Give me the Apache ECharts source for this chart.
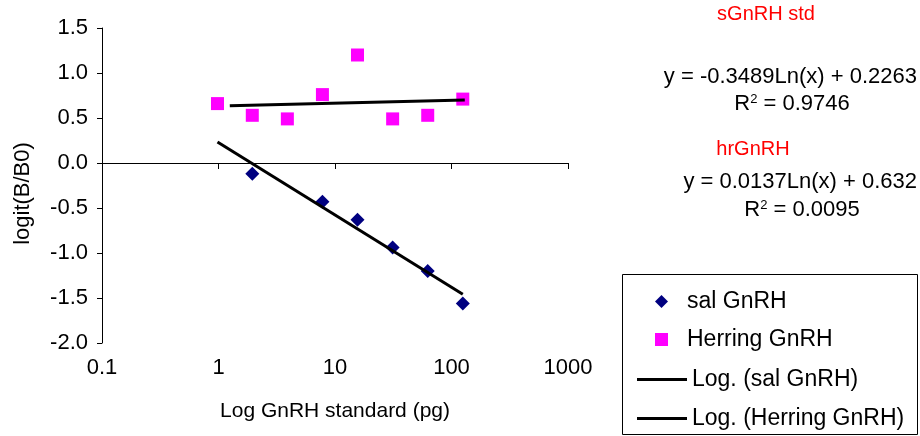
<!DOCTYPE html>
<html>
<head>
<meta charset="utf-8">
<style>
  html, body { margin: 0; padding: 0; background: #fff; }
  #chart { width: 920px; height: 436px; }
</style>
<script src="https://cdn.jsdelivr.net/npm/echarts@6/dist/echarts.min.js"></script>
</head>
<body>
<div id="chart"></div>
<script>
// GnRH standard amounts (pg), two-fold dilution series
const doses = [0.98, 1.95, 3.9, 7.8, 15.6, 31.25, 62.5, 125];
// logit(B/B0) for each standard (null = no reading)
const salGnRH = [null, -0.12, null, -0.43, -0.63, -0.94, -1.20, -1.56];
const herringGnRH = [0.66, 0.53, 0.49, 0.76, 1.20, 0.49, 0.53, 0.71];

// Logarithmic fits y = a*Ln(x) + b, and the dose span each one covers
const salFit = [-0.3489, 0.2263];
const salFitSpan = [0.98, 125];
const herringFit = [0.0137, 0.632];
const herringFitSpan = [1.25, 130];

const yTicks = [-2.0, -1.5, -1.0, -0.5, 0.0, 0.5, 1.0, 1.5];
const xTicks = [0.1, 1, 10, 100, 1000];

const seriesNames = ['sal GnRH', 'Herring GnRH', 'Log. (sal GnRH)', 'Log. (Herring GnRH)'];
const seriesColors = ['#000080', '#FF00FF', '#000000', '#000000'];
const fitNotes = [
  { title: 'sGnRH std', eq: 'y = -0.3489Ln(x) + 0.2263', r2: '0.9746' },
  { title: 'hrGnRH', eq: 'y = 0.0137Ln(x) + 0.632', r2: '0.0095' }
];

const FONT = 'Liberation Sans, Arial, sans-serif';

function pairs(xs, ys) {
  const out = [];
  xs.forEach((x, i) => { if (ys[i] !== null) out.push([x, ys[i]]); });
  return out;
}
function fitLine(coef, span) {
  return span.map(x => [x, coef[0] * Math.log(x) + coef[1]]);
}

const chart = echarts.init(document.getElementById('chart'), null, { renderer: 'canvas' });

// one legend block per entry so each row sits where it should
const legendTops = [285, 323, 363, 402];
const legendIcons = ['diamond', 'rect', 'rect', 'rect'];
const legends = seriesNames.map((name, i) => {
  const isLine = i >= 2;
  return {
    data: [{ name: name, icon: legendIcons[i], itemStyle: { color: seriesColors[i], borderWidth: 0, opacity: 1 } }],
    left: isLine ? 632 : 650,
    top: legendTops[i],
    itemWidth: isLine ? 50 : 13,
    itemHeight: isLine ? 3 : 13,
    itemGap: 5,
    selectedMode: false,
    itemStyle: { color: seriesColors[i], borderWidth: 0, opacity: 1 },
    textStyle: {
      fontFamily: FONT, fontSize: 23, color: '#000', lineHeight: 22,
      padding: isLine ? [0, 0, 0, 0] : [0, 0, 0, 14]
    }
  };
});

const option = {
  animation: false,
  backgroundColor: '#fff',
  grid: { left: 102, top: 28, width: 466, height: 315, containLabel: false },
  legend: legends,
  xAxis: {
    type: 'log',
    logBase: 10,
    min: xTicks[0],
    max: xTicks[xTicks.length - 1],
    name: 'Log GnRH standard (pg)',
    nameLocation: 'middle',
    nameGap: 58,
    nameTextStyle: { fontFamily: FONT, fontSize: 21, color: '#000' },
    axisLine: { lineStyle: { color: '#000', width: 1 } },
    axisTick: { show: true, inside: false, length: 6, lineStyle: { color: '#000' } },
    axisLabel: {
      fontFamily: FONT, fontSize: 22, color: '#000', margin: 14,
      formatter: v => String(+v.toPrecision(6))
    },
    splitLine: { show: false },
    minorTick: { show: false }
  },
  yAxis: {
    type: 'value',
    min: yTicks[0],
    max: yTicks[yTicks.length - 1],
    interval: 0.5,
    name: 'logit(B/B0)',
    nameLocation: 'middle',
    nameGap: 68,
    nameTextStyle: { fontFamily: FONT, fontSize: 22, color: '#000', padding: [0, 0, 0, -16] },
    axisLine: { show: true, lineStyle: { color: '#000', width: 1 } },
    axisTick: { show: true, inside: false, length: 5, lineStyle: { color: '#000' } },
    axisLabel: {
      fontFamily: FONT, fontSize: 22, color: '#000', margin: 14,
      formatter: v => v.toFixed(1)
    },
    splitLine: { show: false }
  },
  series: [
    {
      name: seriesNames[0],
      type: 'scatter',
      symbol: 'diamond',
      symbolSize: 14,
      itemStyle: { color: seriesColors[0], opacity: 1 },
      data: pairs(doses, salGnRH),
      z: 2
    },
    {
      name: seriesNames[1],
      type: 'scatter',
      symbol: 'rect',
      symbolSize: 13,
      itemStyle: { color: seriesColors[1], opacity: 1 },
      data: pairs(doses, herringGnRH),
      z: 2
    },
    {
      name: seriesNames[2],
      type: 'line',
      symbol: 'none',
      lineStyle: { color: seriesColors[2], width: 3 },
      itemStyle: { color: seriesColors[2] },
      data: fitLine(salFit, salFitSpan),
      z: 3
    },
    {
      name: seriesNames[3],
      type: 'line',
      symbol: 'none',
      lineStyle: { color: seriesColors[3], width: 3 },
      itemStyle: { color: seriesColors[3] },
      data: fitLine(herringFit, herringFitSpan),
      z: 3
    }
  ],
  graphic: [
    // legend frame
    {
      type: 'rect',
      shape: { x: 622.5, y: 274.5, width: 295, height: 160 },
      style: { fill: 'none', stroke: '#000', lineWidth: 1 },
      z: 0, silent: true
    },
    // fit notes
    {
      type: 'text', x: 766, y: 14,
      style: { text: fitNotes[0].title, font: '20px ' + FONT, fill: '#FF0000', align: 'center', verticalAlign: 'middle' }
    },
    {
      type: 'text', x: 917, y: 77,
      style: { text: fitNotes[0].eq, font: '22px ' + FONT, fill: '#000', align: 'right', verticalAlign: 'middle' }
    },
    {
      type: 'text', x: 792, y: 104,
      style: {
        text: '{a|R}{s|2}{a| = ' + fitNotes[0].r2 + '}',
        align: 'center', verticalAlign: 'middle',
        rich: {
          a: { font: '22px ' + FONT, fill: '#000' },
          s: { font: '13px ' + FONT, fill: '#000', padding: [0, 0, 9, 0] }
        }
      }
    },
    {
      type: 'text', x: 753, y: 149,
      style: { text: fitNotes[1].title, font: '20px ' + FONT, fill: '#FF0000', align: 'center', verticalAlign: 'middle' }
    },
    {
      type: 'text', x: 917, y: 182,
      style: { text: fitNotes[1].eq, font: '22px ' + FONT, fill: '#000', align: 'right', verticalAlign: 'middle' }
    },
    {
      type: 'text', x: 802, y: 210,
      style: {
        text: '{a|R}{s|2}{a| = ' + fitNotes[1].r2 + '}',
        align: 'center', verticalAlign: 'middle',
        rich: {
          a: { font: '22px ' + FONT, fill: '#000' },
          s: { font: '13px ' + FONT, fill: '#000', padding: [0, 0, 9, 0] }
        }
      }
    }
  ]
};

chart.setOption(option);
</script>
</body>
</html>
